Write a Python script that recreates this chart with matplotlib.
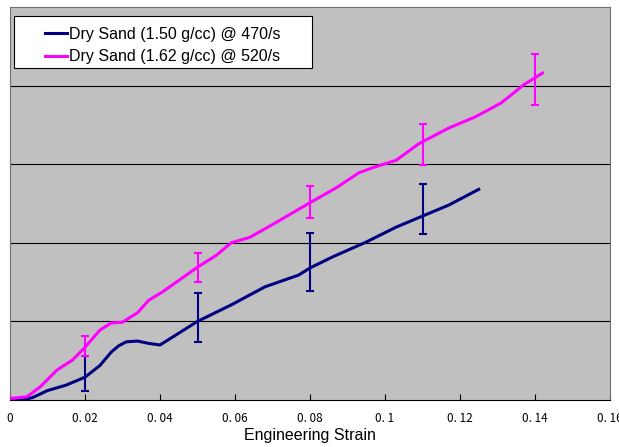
import matplotlib
matplotlib.use('Agg')

from matplotlib import pyplot as plt
from matplotlib.patches import Rectangle
import numpy as np

# curve data (strain, arbitrary stress units)
strain_a = [0, 0.003, 0.006, 0.010, 0.015, 0.020, 0.024, 0.027, 0.029, 0.031,
            0.034, 0.037, 0.040, 0.043, 0.050, 0.059, 0.068, 0.077, 0.080,
            0.086, 0.095, 0.103, 0.110, 0.117, 0.125]
stress_a = [0, 0, 0.03, 0.12, 0.19, 0.29, 0.44, 0.61, 0.69, 0.74,
            0.75, 0.72, 0.70, 0.79, 1.00, 1.21, 1.44, 1.59, 1.68,
            1.82, 2.01, 2.20, 2.34, 2.48, 2.68]

strain_b = [0, 0.0045, 0.008, 0.0125, 0.0167, 0.020, 0.024, 0.027, 0.030,
            0.034, 0.037, 0.0405, 0.050, 0.055, 0.059, 0.064, 0.071, 0.080,
            0.087, 0.093, 0.097, 0.103, 0.109, 0.117, 0.124, 0.131, 0.137,
            0.142]
stress_b = [0.02, 0.04, 0.165, 0.38, 0.51, 0.67, 0.89, 0.98, 0.99,
            1.11, 1.27, 1.37, 1.69, 1.84, 2.00, 2.07, 2.26, 2.51,
            2.70, 2.89, 2.96, 3.05, 3.26, 3.46, 3.60, 3.78, 4.01,
            4.16]

# error bars: x position, low end, high end
err_x_a = [0.02, 0.05, 0.08, 0.11]
err_lo_a = [0.11, 0.74, 1.39, 2.11]
err_hi_a = [0.56, 1.36, 2.12, 2.75]

err_x_b = [0.02, 0.05, 0.08, 0.11, 0.14]
err_lo_b = [0.56, 1.50, 2.32, 2.99, 3.75]
err_hi_b = [0.81, 1.87, 2.72, 3.51, 4.40]

xticks = [0, 0.02, 0.04, 0.06, 0.08, 0.10, 0.12, 0.14, 0.16]
xticklabels = ['0', '0. 02', '0. 04', '0. 06', '0. 08', '0. 1', '0. 12',
               '0. 14', '0. 16']

labels = ['Dry Sand (1.50 g/cc) @ 470/s', 'Dry Sand (1.62 g/cc) @ 520/s']
NAVY = '#000080'
MAGENTA = '#ff00ff'


def draw_errs(ax, xs, lo, hi, color):
    mid = (np.array(lo) + np.array(hi)) / 2.0
    half = (np.array(hi) - np.array(lo)) / 2.0
    ax.errorbar(xs, mid, yerr=half, fmt='none', ecolor=color,
                elinewidth=1.5, capsize=3, capthick=1.5, zorder=4)


def main():
    plt.rcParams['font.family'] = ['Liberation Sans', 'DejaVu Sans']

    fig = plt.figure(figsize=(6.19, 4.47), dpi=100)
    ax = fig.add_axes([10 / 619, 47 / 447, 600 / 619, 393 / 447])
    ax.set_facecolor('#c0c0c0')

    ax.plot(strain_a, stress_a, color=NAVY, lw=2.2, label=labels[0], zorder=3)
    ax.plot(strain_b, stress_b, color=MAGENTA, lw=2.2, label=labels[1],
            zorder=3)
    draw_errs(ax, err_x_a, err_lo_a, err_hi_a, NAVY)
    draw_errs(ax, err_x_b, err_lo_b, err_hi_b, MAGENTA)

    ax.set_xlim(0, 0.16)
    ax.set_ylim(0, 5)
    ax.set_yticks([1, 2, 3, 4])
    ax.yaxis.grid(True, color='black', lw=0.8)
    ax.set_axisbelow(True)
    ax.tick_params(axis='y', left=False, labelleft=False)

    ax.set_xticks(xticks)
    ax.set_xticklabels(xticklabels, fontsize=8.5,
                       family=['Noto Sans CJK SC', 'DejaVu Sans'])
    ax.tick_params(axis='x', direction='in', length=4, pad=9)
    ax.set_xlabel('Engineering Strain', fontsize=11.5, labelpad=1.5)

    for side in ['top', 'left', 'right']:
        ax.spines[side].set_color('#707070')
    ax.spines['bottom'].set_color('black')

    # legend frame drawn by hand, Excel style (wide, content centred)
    ax.add_patch(Rectangle((0.0067, 0.8448), 0.4967, 0.1323,
                           transform=ax.transAxes, facecolor='white',
                           edgecolor='black', lw=0.8, zorder=5))
    leg = ax.legend(loc='upper left', bbox_to_anchor=(0.058, 0.949),
                    borderaxespad=0, borderpad=0, frameon=False,
                    fontsize=11.5, handlelength=1.4, handletextpad=0.12,
                    labelspacing=0.45)
    leg.set_zorder(6)

    fig.savefig('out.png', dpi=100)


if __name__ == '__main__':
    main()
